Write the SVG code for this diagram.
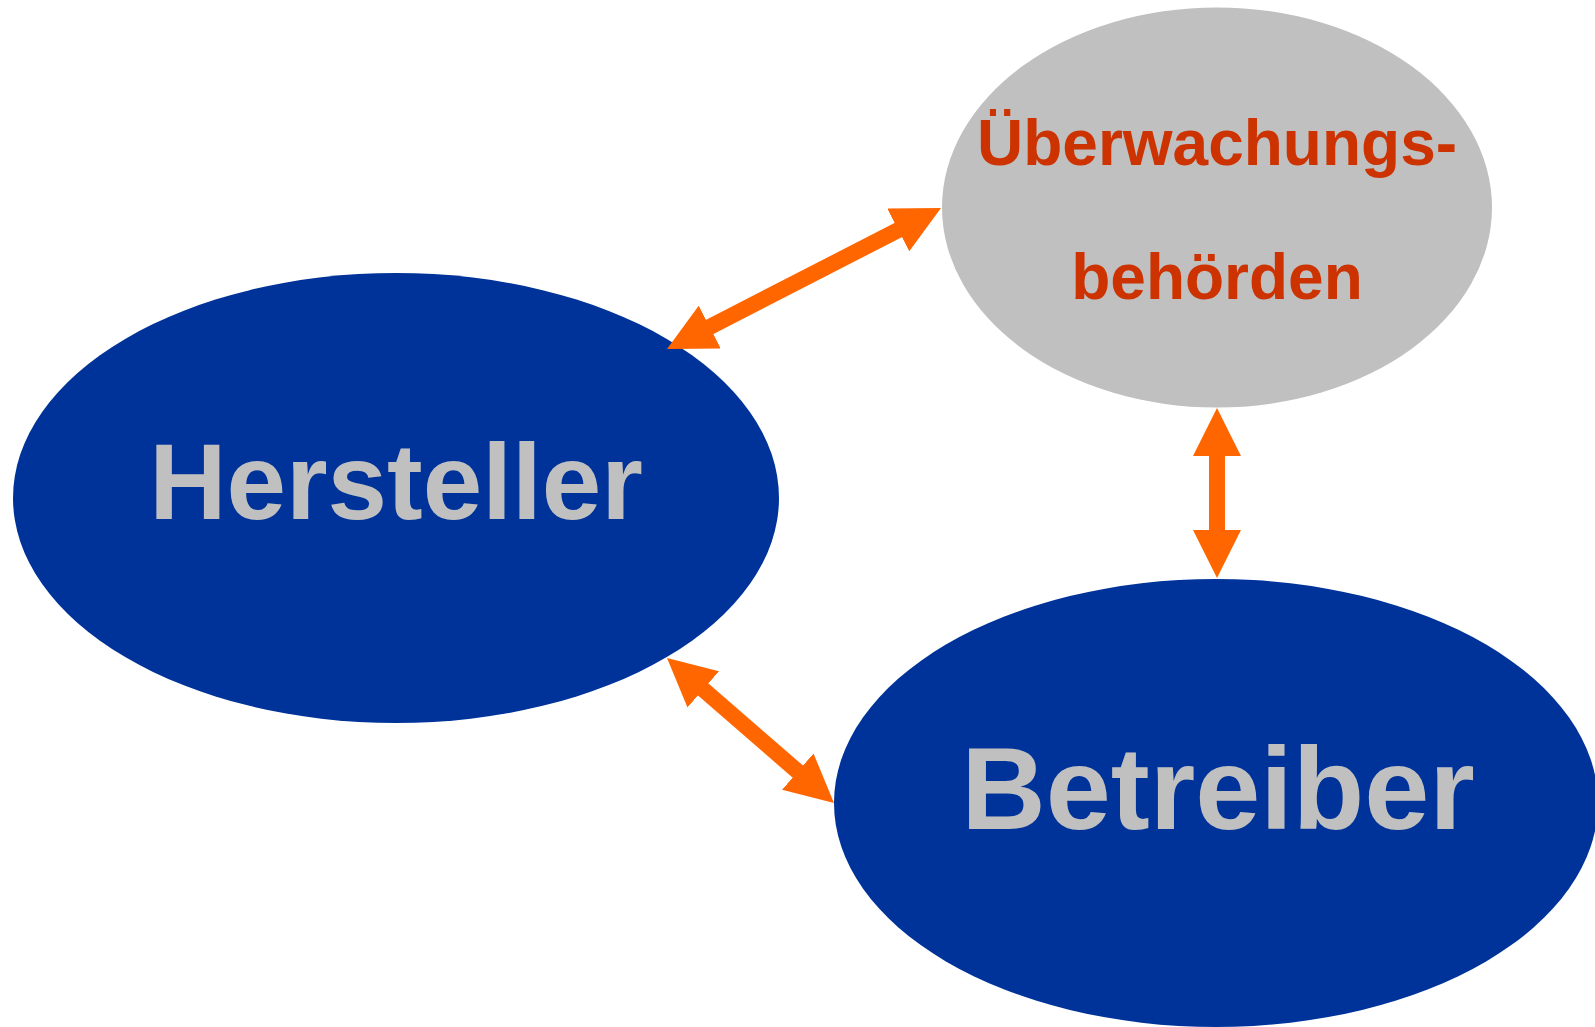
<svg xmlns="http://www.w3.org/2000/svg" width="1595" height="1027" viewBox="0 0 1595 1027">
<style>
.blue{fill:#003399}
.grey{fill:#C0C0C0}
.lbl{font-family:"Liberation Sans",Arial,sans-serif;font-weight:bold;text-anchor:middle}
.lg{fill:#C0C0C0}
.lr{fill:#CC3300}
.conn{stroke:#FF6600;stroke-width:16;fill:none;marker-start:url(#ah);marker-end:url(#ah)}
</style>
<defs>
<marker id="ah" viewBox="0 0 48 48" markerUnits="userSpaceOnUse" markerWidth="48" markerHeight="48" refX="8" refY="24" orient="auto-start-reverse">
<path d="M0,0 L48,24 L0,48 Z" fill="#FF6600"/>
</marker>
</defs>
<rect width="1595" height="1027" fill="#FFFFFF"/>
<g id="hersteller">
<ellipse class="blue" cx="396" cy="498" rx="383" ry="225"/>
<text class="lbl lg" x="396" y="519" font-size="107">Hersteller</text>
</g>
<g id="ueberwachungsbehoerden">
<ellipse class="grey" cx="1217" cy="207.5" rx="275" ry="200"/>
<text class="lbl lr" x="1217" y="165" font-size="64">Überwachungs-</text>
<text class="lbl lr" x="1217" y="299" font-size="64">behörden</text>
</g>
<g id="betreiber">
<ellipse class="blue" cx="1216" cy="803" rx="382" ry="224"/>
<text class="lbl lg" x="1218" y="829" font-size="117">Betreiber</text>
</g>
<g id="connectors">
<line class="conn" x1="702.6" y1="330.7" x2="905.4" y2="226.3"/>
<line class="conn" x1="697.2" y1="684.2" x2="803.8" y2="776.8"/>
<line class="conn" x1="1217" y1="448" x2="1217" y2="538"/>
</g>
</svg>
